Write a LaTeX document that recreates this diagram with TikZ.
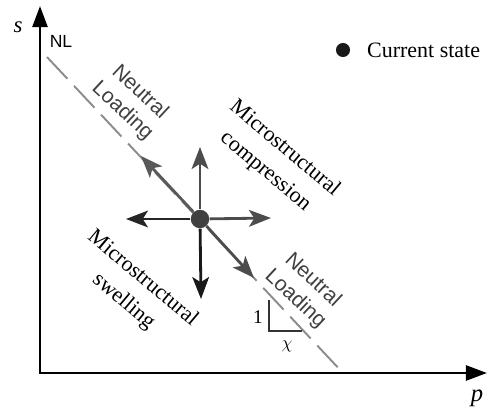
\documentclass[tikz,border=0pt]{standalone}
\usepackage{fontspec}
\setmainfont{Liberation Serif}
\setsansfont{Liberation Sans}
\usetikzlibrary{arrows.meta}
\tikzset{
	axis/.style     = {line width=1.6pt, line join=miter, {Triangle[length=12pt, width=8.5pt]}-{Triangle[length=12pt, width=8.5pt]}},
	move/.style     = {line width=1.6pt, -{Stealth[length=12.5pt, width=9.5pt, inset=3pt]}},
	state/.style    = {circle, fill=black!75, inner sep=0pt, minimum size=10pt},
	region/.style   = {font=\fontsize{12.5}{17}\selectfont, align=center, rotate=-40},
	neutral/.style  = {font=\sffamily\fontsize{12}{14.5}\selectfont, text=black!75, align=center, rotate=-43},
	nlline/.style   = {line width=1.1pt, black!45, dash pattern=on 17pt off 5.5pt}
}

\begin{document}
\begin{tikzpicture}[x=0.02cm, y=-0.02cm]
	\useasboundingbox (0,0) rectangle (488,409);
	\coordinate (s) at (40,6);
	\coordinate (o) at (40,373);
	\coordinate (p) at (487,373);
	\draw[axis] (s) -- (o) -- (p);
	\node[font=\fontsize{13}{15}\selectfont\itshape] (slabel) at (18,27) {s};
	\node[font=\fontsize{14}{16}\selectfont\itshape] (plabel) at (477,398) {p};
	\node[font=\sffamily\fontsize{10}{12}\selectfont] (nl) at (61,41) {NL};
	
	% neutral loading line
	\coordinate (nl1) at (47,57);
	\coordinate (nl2) at (343,373);
	\draw[nlline] (nl1) -- (nl2);
	
	\node[state, minimum size=10.5pt] (cs) at (200,219) {};
	\coordinate (ul) at (141,156);
	\coordinate (dr) at (254,278);
	\coordinate (up) at (200,147);
	\coordinate (dn) at (201,299);
	\coordinate (lf) at (126,219);
	\coordinate (rt) at (271,218);
	\draw[move, black!65] (cs) -- (ul);
	\draw[move, black!70] (cs) -- (dr);
	\draw[move, black!70] (cs) -- (up);
	\draw[move, black!70] (cs) -- (rt);
	\draw[move, black!85] (cs) -- (lf);
	\draw[move, black!90] (cs) -- (dn);
	
	\node[neutral] (nlt) at (131,102) {Neutral\\Loading};
	\node[neutral] (nlb) at (304,290) {Neutral\\Loading};
	\node[region] (comp) at (275,160) {Microstructural\\compression};
	\node[region] (swel) at (133,290) {Microstructural\\swelling};
	
	% slope
	\coordinate (t1) at (269,300);
	\coordinate (t2) at (302,331);
	\draw[line width=0.8pt, black!80] (t1) |- (t2);
	\node[font=\fontsize{11}{13}\selectfont] (one) at (258,317) {1};
	\node (chi) at (287,346) {$\chi$};
	
	% legend
	\node[state, minimum size=8pt, fill=black!90] (leg) at (343,50) {};
	\node[anchor=west, font=\fontsize{12.5}{15}\selectfont] (legtext) at (361,50) {Current state};
\end{tikzpicture}
\end{document}
